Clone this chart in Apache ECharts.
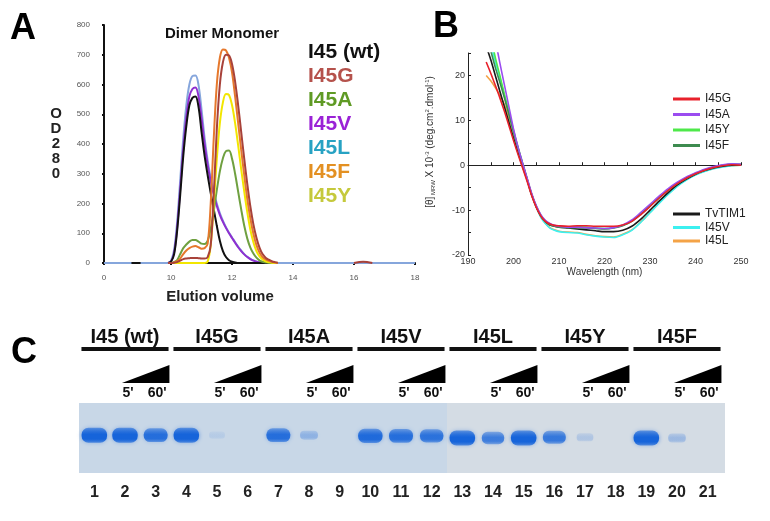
<!DOCTYPE html>
<html><head><meta charset="utf-8">
<script src="https://cdn.jsdelivr.net/npm/echarts@6/dist/echarts.min.js"></script>
<style>html,body{margin:0;padding:0;background:#fff}#c{width:770px;height:521px}</style>
</head><body><div id="c"></div>
<script>
const FONT = '"Liberation Sans", Arial, Helvetica, sans-serif';

// ---------- Panel A : size-exclusion chromatography ----------
const elution = [9.9,10.0,10.1,10.2,10.3,10.4,10.5,10.6,10.7,10.8,10.9,11.0,11.1,11.2,11.3,11.4,11.5,11.6,11.7,11.8,11.9,12.0,12.1,12.2,12.3,12.4,12.5,12.6,12.7,12.8,12.9,13.0,13.1,13.2,13.3,13.4,13.5];
const odWt = [0,5,30,110,230,360,460,530,555,560,525,440,360,295,235,180,125,75,40,20,9,4,2,0,0,0,0,0,0,0,0,0,0,0,0,0,0];
const odV  = [0,5,35,120,250,385,490,560,585,590,560,485,400,330,275,230,192,162,138,118,100,84,68,53,40,29,20,13,8,4,2,0,0,0,0,0,0];
const odL  = [0,8,45,140,280,420,530,600,628,630,598,515,420,345,285,238,200,168,142,120,102,86,70,55,42,30,21,14,9,5,2,0,0,0,0,0,0];
const odA  = [0,0,3,10,30,50,62,72,77,77,72,65,64,75,115,175,245,308,352,376,378,350,300,240,180,125,82,52,32,18,9,4,2,0,0,0,0];
const odY  = [0,0,0,0,0,0,0,0,0,0,0,0,0,5,60,200,350,470,540,568,565,530,470,395,315,240,170,112,70,40,22,12,6,3,1,0,0];
const odF  = [0,0,2,6,15,30,42,50,55,57,53,48,50,65,200,420,600,690,718,715,690,640,560,470,380,295,215,150,98,60,35,20,12,7,4,2,0];
const odG  = [0,0,1,3,8,13,15,16,17,17,16,15,15,20,60,230,450,600,675,700,698,668,610,530,440,350,265,190,130,85,52,30,18,11,6,3,1];
const baselineLeft = [7.8, 8.7];          // flat baseline before the axis break
const baselineRight = [9.0, 9.8];         // baseline after the break
const baselineTail = [13.6, 18];          // baseline after the peaks
const bumpG = [[16.0,0],[16.3,4],[16.6,0]];
const aTickValues = [7.8, 10, 12, 14, 16, 18];
const aTickLabels = ['0','10','12','14','16','18'];
const aNames = ['I45 (wt)','I45G','I45A','I45V','I45L','I45F','I45Y'];
const aLineColors = {'I45 (wt)':'#111111','I45G':'#a8423a','I45A':'#6fa040','I45V':'#8e2fd0','I45L':'#86a6dc','I45F':'#e6782c','I45Y':'#f2e600'};
const aTextColors = ['#111111','#b5524c','#5f9a24','#9a22d6','#27a2c3','#e39022','#c5c93c'];

// ---------- Panel B : CD spectra ----------
const wavelength = [194,195,196,197,198,199,200,201,202,203,204,205,206,207,208,209,210,212,214,216,218,220,222,224,226,228,230,232,234,236,238,240,242,244,246,248,250];
const cdG  = [23,20.5,17.8,15,12,8.8,5.5,2.4,-0.6,-3.6,-6.8,-9.4,-11.3,-12.5,-13.1,-13.4,-13.5,-13.6,-13.5,-13.5,-13.6,-13.6,-13.6,-13.3,-12.5,-11,-9.2,-7.3,-5.6,-4.1,-2.9,-1.9,-1.1,-0.5,-0.1,0.1,0];
const cdA  = [null,null,28,22.8,17.9,13,8.1,4,0.5,-2.9,-6.3,-9,-11,-12.3,-13,-13.4,-13.6,-13.8,-13.8,-13.9,-14,-14.1,-13.9,-13.3,-12.2,-10.5,-8.7,-6.9,-5.2,-3.8,-2.6,-1.7,-0.9,-0.3,0.1,0.3,0.2];
const cdY  = [null,29,24,20,15.8,11.8,7.8,4,0.5,-3,-6.5,-9.1,-11.1,-12.4,-13.1,-13.5,-13.7,-13.8,-13.7,-13.8,-14,-14.1,-13.9,-13.4,-12.4,-10.8,-9,-7.2,-5.5,-4,-2.8,-1.8,-1,-0.4,0,0.2,0.1];
const cdF  = [29,25.5,21.8,18.5,15,11.3,7.5,3.8,0.3,-3.2,-6.6,-9.2,-11.2,-12.5,-13.2,-13.6,-13.8,-13.9,-13.9,-14,-14.1,-14.2,-14,-13.5,-12.5,-10.9,-9.1,-7.3,-5.6,-4.1,-2.9,-1.9,-1.1,-0.5,0,0.2,0.2];
const cdWt = [26.5,23.5,20,16.5,13,9.5,6,2.8,-0.3,-3.3,-6.6,-9.3,-11.3,-12.6,-13.3,-13.6,-13.8,-14,-14.2,-14.4,-14.6,-14.8,-14.8,-14.5,-13.6,-12,-10,-8,-6.1,-4.4,-3.1,-2,-1.2,-0.6,-0.2,0,0];
const cdV  = [null,27,23,19.5,15.5,11.5,7.5,3.7,0.2,-3.2,-6.6,-9.3,-11.6,-13,-14,-14.5,-14.8,-15,-15.1,-15.5,-15.8,-16,-16.1,-15.5,-14.5,-12.7,-10.6,-8.5,-6.5,-4.7,-3.3,-2.2,-1.4,-0.8,-0.4,-0.1,0];
const cdL  = [20,18.8,17.3,15.6,13.5,10.5,7,3.5,0.2,-3,-6.4,-9.2,-11.5,-12.9,-13.9,-14.4,-14.7,-14.9,-15,-15.4,-15.7,-15.9,-16,-15.4,-14.4,-12.6,-10.5,-8.4,-6.4,-4.6,-3.2,-2.1,-1.3,-0.7,-0.3,-0.1,0];
const bLegendTop = ['I45G','I45A','I45Y','I45F'];
const bLegendBottom = ['TvTIM1','I45V','I45L'];
const bColors = {'I45G':'#e8212b','I45A':'#9b4cf0','I45Y':'#4ee84a','I45F':'#3d8b4f','TvTIM1':'#1a1a1a','I45V':'#3cf0f0','I45L':'#f4a347'};

// ---------- Panel C : limited proteolysis gel ----------
const laneLabels = ['1','2','3','4','5','6','7','8','9','10','11','12','13','14','15','16','17','18','19','20','21'];
const groupNames = ['I45 (wt)','I45G','I45A','I45V','I45L','I45Y','I45F'];
const groupLanes = [[0,2],[3,5],[6,8],[9,11],[12,14],[15,17],[18,20]];
const timeLabels = ["5'", "60'"];
const bandIntensity = [1.0,1.0,0.85,1.0,0.04,0,0.85,0.25,0,0.9,0.85,0.8,1.0,0.7,1.0,0.75,0.13,0,1.0,0.22,0];
const bandMigration = [0.54,0.54,0.54,0.54,0.54,0.54,0.54,0.54,0.54,0.53,0.53,0.53,0.50,0.50,0.50,0.51,0.51,0.51,0.50,0.50,0.50];
const gelSections = [[12, 20]];

function pairs(xs, ys) { return xs.map((x, i) => [x, ys[i]]); }

const chart = echarts.init(document.getElementById('c'));

const lineA = (name, ys, extraBefore, extraAfter) => ({
  name, type:'line', xAxisIndex:0, yAxisIndex:0, smooth:0.35, symbol:'none',
  lineStyle:{width:2, color:aLineColors[name]}, itemStyle:{color:aLineColors[name]},
  data: (extraBefore || []).concat(pairs(elution, ys), extraAfter || []), z:3
});
const lineB = (name, ys) => ({
  name, type:'line', xAxisIndex:1, yAxisIndex:1, smooth:0.3, symbol:'none',
  lineStyle:{width:1.6, color:bColors[name]}, itemStyle:{color:bColors[name]},
  data: pairs(wavelength, ys), z:3
});

const lBefore = baselineLeft.map(v => [v, 0]).concat([[ (baselineLeft[1]+baselineRight[0])/2, null ]], baselineRight.map(v => [v, 0]));
const lAfter = baselineTail.map(v => [v, 0]);

function renderGel(params, api) {
  const bw = api.size([1, 0])[0];
  const x0 = api.coord([api.value(0), 0])[0] - bw / 2;
  const x1 = api.coord([api.value(1), 0])[0] + bw / 2 + 2;
  const yTop = api.coord([0, 1])[1], yBot = api.coord([0, 0])[1];
  return {type:'rect', shape:{x:x0, y:yTop, width:x1 - x0, height:yBot - yTop}, style:{fill:'#d4dce4'}};
}
function blue(a) { return 'rgba(22,100,218,' + Math.min(1, a).toFixed(3) + ')'; }
function renderBand(params, api) {
  const inten = api.value(2);
  if (!inten) return null;
  const c = api.coord([api.value(0), api.value(1)]);
  const bw = api.size([1, 0])[0];
  const w = bw * (0.5 + 0.33 * inten);
  const h = 7 + 8 * inten;
  const a = 0.06 + 0.94 * inten;
  return {type:'rect', shape:{x:c[0] - w / 2, y:c[1] - h / 2, width:w, height:h, r:h / 2.2},
    style:{fill:new echarts.graphic.LinearGradient(0, 0, 0, 1, [
        {offset:0, color:blue(a * 0.55)}, {offset:0.45, color:blue(a)}, {offset:0.75, color:blue(a)}, {offset:1, color:blue(a * 0.6)}]),
      shadowBlur:4, shadowColor:blue(a * 0.55)}};
}
function renderHeader(params, api) {
  const name = groupNames[params.dataIndex];
  const s = api.value(0), e = api.value(1);
  const bw = api.size([1, 0])[0];
  const xs = api.coord([s, 0])[0], xe = api.coord([e, 0])[0], x2 = api.coord([s + 1, 0])[0];
  const bx0 = xs - bw * 0.42, bx1 = xe + bw * 0.42;
  const txt = (t, x, y, size) => ({type:'text', style:{text:t, x, y, align:'center', verticalAlign:'middle',
    fontSize:size, fontWeight:'bold', fontFamily:FONT, fill:'#111'}});
  return {type:'group', children:[
    txt(name, (bx0 + bx1) / 2, 337, 20),
    {type:'rect', shape:{x:bx0, y:347, width:bx1 - bx0, height:4}, style:{fill:'#111'}},
    {type:'polygon', shape:{points:[[x2 - bw * 0.1, 383], [xe + bw * 0.45, 383], [xe + bw * 0.45, 365]]}, style:{fill:'#000'}},
    txt(timeLabels[0], x2 + bw * 0.1, 393, 14),
    txt(timeLabels[1], xe + bw * 0.05, 393, 14)
  ]};
}

const option = {
  animation:false,
  textStyle:{fontFamily:FONT},
  grid:[
    {left:104, right:355, top:25, bottom:258},
    {left:468, right:29, top:53, bottom:266},
    {left:79, right:47, top:403, bottom:48, show:true, backgroundColor:'#c8d7e7', borderWidth:0}
  ],
  xAxis:[
    {gridIndex:0, type:'value', min:7.8, max:18,
     axisLine:{show:true, lineStyle:{color:'#111', width:2}},
     axisTick:{show:true, customValues:aTickValues, length:2, lineStyle:{color:'#111', width:2}},
     axisLabel:{customValues:aTickValues, formatter:v => aTickLabels[aTickValues.indexOf(v)] ?? '', fontSize:8, color:'#555', margin:11},
     splitLine:{show:false},
     name:'Elution volume', nameLocation:'middle', nameGap:26,
     nameTextStyle:{fontSize:15, fontWeight:'bold', color:'#222', padding:[0,79,0,0]}},
    {gridIndex:1, type:'value', min:190, max:250, interval:10,
     axisLine:{show:true, lineStyle:{color:'#222', width:1}},
     axisTick:{show:true, inside:true, length:3, lineStyle:{color:'#222'}},
     minorTick:{show:true, splitNumber:2, length:3, lineStyle:{color:'#222'}},
     axisLabel:{fontSize:9, color:'#333', margin:2},
     splitLine:{show:false},
     name:'Wavelength (nm)', nameLocation:'middle', nameGap:9,
     nameTextStyle:{fontSize:10, color:'#333'}},
    {gridIndex:2, type:'category', data:laneLabels,
     axisLine:{show:false}, axisTick:{show:false},
     axisLabel:{interval:0, fontSize:16, fontWeight:'bold', color:'#222', margin:12}}
  ],
  yAxis:[
    {gridIndex:0, type:'value', min:0, max:800, interval:100,
     axisLine:{show:true, lineStyle:{color:'#111', width:2}},
     axisTick:{show:true, length:2, lineStyle:{color:'#111', width:2}},
     axisLabel:{fontSize:8, color:'#555', margin:14},
     splitLine:{show:false},
     name:'O\nD\n2\n8\n0', nameLocation:'middle', nameRotate:0, nameGap:48,
     nameTextStyle:{fontSize:15, fontWeight:'bold', color:'#222', lineHeight:15, align:'center', verticalAlign:'middle', padding:[0,0,38,0]}},
    {gridIndex:1, type:'value', min:-20, max:25, interval:10,
     axisLine:{show:true, lineStyle:{color:'#222', width:1}},
     axisTick:{show:true, inside:true, length:3, lineStyle:{color:'#222'}},
     minorTick:{show:true, splitNumber:2, length:3, lineStyle:{color:'#222'}},
     axisLabel:{fontSize:9, color:'#333', margin:3, showMaxLabel:false},
     splitLine:{show:false},
     name:'[θ]{sub| MRW} X 10{sup|-3} (deg.cm{sup|2}.dmol{sup|-1})', nameLocation:'middle', nameGap:32,
     nameTextStyle:{fontSize:10, color:'#333', lineHeight:12, padding:[0,0,0,24],
       rich:{sub:{fontSize:6, color:'#333', verticalAlign:'bottom', lineHeight:12}, sup:{fontSize:6, color:'#333', verticalAlign:'top', lineHeight:12}}}},
    {gridIndex:2, type:'value', min:0, max:1, show:false}
  ],
  legend:[
    {orient:'vertical', left:303, top:42, padding:0, itemGap:3, icon:'none', itemWidth:0, itemHeight:14, selectedMode:false,
     textStyle:{fontSize:21, fontWeight:'bold', fontFamily:FONT},
     data:aNames.map((n, i) => ({name:n, textStyle:{color:aTextColors[i]}}))},
    {orient:'vertical', left:673, top:93, padding:0, itemGap:3.5, icon:'rect', itemWidth:27, itemHeight:3, selectedMode:false,
     textStyle:{fontSize:12, color:'#222', fontFamily:FONT},
     data:bLegendTop.map(n => ({name:n, itemStyle:{color:bColors[n], borderWidth:0}}))},
    {orient:'vertical', left:673, top:208, padding:0, itemGap:1.5, icon:'rect', itemWidth:27, itemHeight:3, selectedMode:false,
     textStyle:{fontSize:12, color:'#222', fontFamily:FONT},
     data:bLegendBottom.map(n => ({name:n, itemStyle:{color:bColors[n], borderWidth:0}}))}
  ],
  graphic:[
    {type:'text', x:23, y:29, style:{text:'A', fontSize:36, fontWeight:'bold', fontFamily:FONT, fill:'#000', align:'center', verticalAlign:'middle'}},
    {type:'text', x:446, y:27, style:{text:'B', fontSize:36, fontWeight:'bold', fontFamily:FONT, fill:'#000', align:'center', verticalAlign:'middle'}},
    {type:'text', x:24, y:353, style:{text:'C', fontSize:36, fontWeight:'bold', fontFamily:FONT, fill:'#000', align:'center', verticalAlign:'middle'}},
    {type:'text', x:222, y:34, style:{text:'Dimer Monomer', fontSize:15, fontWeight:'bold', fontFamily:FONT, fill:'#111', align:'center', verticalAlign:'middle'}}
  ],
  series:[
    lineB('I45L', cdL), lineB('I45V', cdV), lineB('TvTIM1', cdWt), lineB('I45Y', cdY),
    lineB('I45F', cdF), lineB('I45A', cdA), lineB('I45G', cdG),
    lineA('I45L', odL, lBefore, lAfter),
    lineA('I45V', odV), lineA('I45 (wt)', odWt), lineA('I45A', odA),
    lineA('I45Y', odY), lineA('I45F', odF), lineA('I45G', odG, null, [[13.6, null]].concat(bumpG)),
    {type:'custom', name:'gel', xAxisIndex:2, yAxisIndex:2, renderItem:renderGel, data:gelSections, z:1, silent:true},
    {type:'custom', name:'bands', xAxisIndex:2, yAxisIndex:2, renderItem:renderBand,
     data:laneLabels.map((_, i) => [i, bandMigration[i], bandIntensity[i]]), z:2, silent:true},
    {type:'custom', name:'groups', xAxisIndex:2, yAxisIndex:2, renderItem:renderHeader, data:groupLanes, z:2, silent:true, clip:false}
  ]
};
chart.setOption(option);
</script></body></html>
